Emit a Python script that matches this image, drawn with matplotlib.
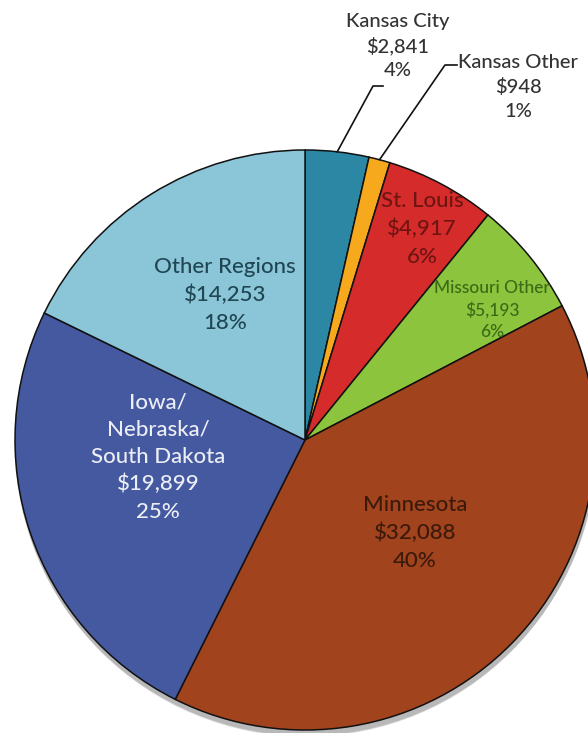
import numpy as np
import matplotlib
matplotlib.use("Agg")
from matplotlib import pyplot as plt

# data, clockwise from 12 o'clock
regions = ["Kansas City", "Kansas Other", "St. Louis", "Missouri Other",
           "Minnesota", "Iowa/\nNebraska/\nSouth Dakota", "Other Regions"]
amounts = [2841, 948, 4917, 5193, 32088, 19899, 14253]

colors = ["#2b87a3", "#f6a91d", "#d52b2b", "#8dc43d",
          "#a1431d", "#44599f", "#8bc5d8"]
text_colors = ["#333333", "#333333", "#6e1512", "#3b6a17",
               "#3b1a0c", "#eceef5", "#1f4653"]
font_sizes = [14.5, 14.5, 16, 12.5, 16, 16, 16]
# label centres in image pixels
label_xy = [(398, 46), (518, 87), (422, 229), (492, 310),
            (415, 533), (158, 457), (225, 295)]
# elbow points of leader lines for the two small outside labels
leader_elbows = {0: [(373, 86), (383, 86)], 1: [(445, 65), (457, 65)]}

W, H = 588, 733
cx, cy, R = 305, 440, 290

plt.rcParams["font.family"] = ["Lato", "DejaVu Sans"]

fig = plt.figure(figsize=(W / 100, H / 100), dpi=100)
ax = fig.add_axes([0, 0, 1, 1])

# soft shadow under the pie
for k in range(6):
    shadow = plt.Circle((cx + 1, cy + 4 + k * 0.6), R + 1.5 - k * 0.3,
                        color="#000000", alpha=0.05, lw=0, zorder=0)
    ax.add_patch(shadow)

# y axis is inverted below, so start at -90 and go "counterclock" in data
wedges, _ = ax.pie(amounts, colors=colors, startangle=-90, counterclock=True,
                   center=(cx, cy), radius=R,
                   wedgeprops=dict(edgecolor="#111111", linewidth=1.1))
for w in wedges:
    w.set_zorder(2)

ax.set_xlim(0, W)
ax.set_ylim(H, 0)
ax.set_aspect("equal")
ax.axis("off")

total = sum(amounts)
for i, (name, val) in enumerate(zip(regions, amounts)):
    pct = round(val / total * 100)
    label = f"{name}\n${val:,}\n{pct}%"
    x, y = label_xy[i]
    ax.text(x, y, label, ha="center", va="center", multialignment="center",
            fontsize=font_sizes[i], color=text_colors[i], linespacing=1.45,
            fontweight="medium", zorder=5)

# leader lines from wedge mid-angle on the rim
for i, elbows in leader_elbows.items():
    w = wedges[i]
    mid = np.deg2rad(-(w.theta1 + w.theta2) / 2)
    sx, sy = cx + R * np.cos(mid), cy - R * np.sin(mid)
    xs = [sx] + [p[0] for p in elbows]
    ys = [sy] + [p[1] for p in elbows]
    ax.plot(xs, ys, color="#111111", lw=1.2, zorder=4)

fig.savefig("out.png", dpi=100, facecolor="white")
